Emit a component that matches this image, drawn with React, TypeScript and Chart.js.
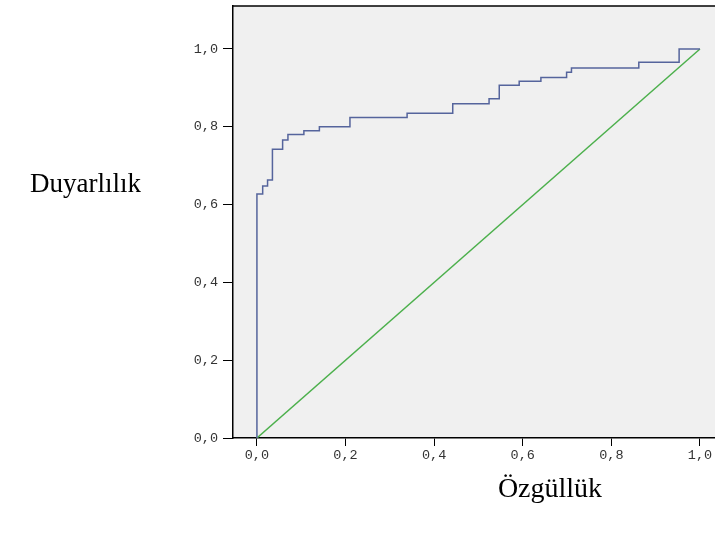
import React, { useEffect, useRef } from "react";
import { Chart, registerables } from "chart.js";

Chart.register(...registerables);

// ROC curve corner points (1 - specificity, sensitivity)
const ROC_FPR = [0, 0, 0.013, 0.024, 0.035, 0.058, 0.07, 0.106, 0.141, 0.21, 0.339, 0.442, 0.524, 0.547, 0.592, 0.641, 0.699, 0.71, 0.862, 0.953, 1.0];
const ROC_TPR = [0, 0.627, 0.648, 0.663, 0.742, 0.766, 0.78, 0.79, 0.8, 0.824, 0.835, 0.859, 0.872, 0.907, 0.917, 0.927, 0.94, 0.951, 0.966, 1.0, 1.0];

// Reference diagonal
const REF_X = [0, 1];
const REF_Y = [0, 1];

const X_TICKS = [0, 0.2, 0.4, 0.6, 0.8, 1.0];
const X_TICK_LABELS = ["0,0", "0,2", "0,4", "0,6", "0,8", "1,0"];
const Y_TICKS = [0, 0.2, 0.4, 0.6, 0.8, 1.0];
const Y_TICK_LABELS = ["0,0", "0,2", "0,4", "0,6", "0,8", "1,0"];

const X_TITLE = "Özgüllük";
const Y_TITLE = "Duyarlılık";

const framePlugin = {
  id: "frame",
  beforeDraw(chart: any) {
    const { ctx, chartArea } = chart;
    const { left, top, right, bottom } = chartArea;
    ctx.save();
    ctx.fillStyle = "#f0f0f0";
    ctx.fillRect(left, top, right - left, bottom - top);
    ctx.restore();
  },
  afterDraw(chart: any) {
    const { ctx, chartArea } = chart;
    const { left, top, right } = chartArea;
    ctx.save();
    ctx.strokeStyle = "#000";
    ctx.lineWidth = 1.5;
    ctx.beginPath();
    ctx.moveTo(left, top);
    ctx.lineTo(right, top);
    ctx.stroke();
    ctx.fillStyle = "#000";
    ctx.font = '27px "Liberation Serif"';
    ctx.textBaseline = "middle";
    ctx.textAlign = "left";
    ctx.fillText(Y_TITLE, 30, 185);
    ctx.textAlign = "center";
    ctx.font = '28px "Liberation Serif"';
    ctx.fillText(X_TITLE, 550, 490);
    ctx.restore();
  },
};

export default function App() {
  const ref = useRef<HTMLCanvasElement | null>(null);

  useEffect(() => {
    if (!ref.current) return;
    const tickFont = { family: '"Liberation Mono"', size: 13.5 };
    const chart = new Chart(ref.current, {
      type: "line",
      data: {
        datasets: [
          {
            data: ROC_FPR.map((x, i) => ({ x, y: ROC_TPR[i] })),
            borderColor: "#55649c",
            borderWidth: 1.5,
            pointRadius: 0,
            stepped: true,
            fill: false,
          },
          {
            data: REF_X.map((x, i) => ({ x, y: REF_Y[i] })),
            borderColor: "#4cb04c",
            borderWidth: 1.5,
            pointRadius: 0,
            fill: false,
          },
        ],
      },
      options: {
        animation: false,
        responsive: false,
        maintainAspectRatio: false,
        layout: { padding: { top: 0, right: 0, bottom: 0, left: 0 } },
        plugins: { legend: { display: false }, tooltip: { enabled: false } },
        scales: {
          x: {
            type: "linear",
            position: "bottom",
            min: -0.054,
            max: 1.034,
            afterBuildTicks: (s: any) => {
              s.ticks = X_TICKS.map((value) => ({ value }));
            },
            afterFit: (s: any) => {
              s.height = 97;
            },
            ticks: {
              callback: (_v: any, i: number) => X_TICK_LABELS[i],
              autoSkip: false,
              maxRotation: 0,
              padding: 1,
              font: tickFont,
              color: "#333",
            },
            grid: { drawOnChartArea: false, drawTicks: true, tickLength: 8, color: "#000", lineWidth: 1 },
            border: { display: true, color: "#000", width: 1.5 },
          },
          y: {
            type: "linear",
            position: "left",
            min: 0,
            max: 1.1105,
            afterBuildTicks: (s: any) => {
              s.ticks = Y_TICKS.map((value) => ({ value }));
            },
            afterFit: (s: any) => {
              s.width = 233;
              s.paddingTop = 6;
            },
            ticks: {
              callback: (_v: any, i: number) => Y_TICK_LABELS[i],
              autoSkip: false,
              padding: 5,
              font: tickFont,
              color: "#333",
            },
            grid: { drawOnChartArea: false, drawTicks: true, tickLength: 10, color: "#000", lineWidth: 1 },
            border: { display: true, color: "#000", width: 1.5 },
          },
        },
      },
      plugins: [framePlugin],
    });
    return () => chart.destroy();
  }, []);

  return (
    <canvas
      ref={ref}
      width={715}
      height={535}
      style={{ position: "fixed", left: 0, top: 0, width: 715, height: 535, background: "#fff" }}
    />
  );
}
